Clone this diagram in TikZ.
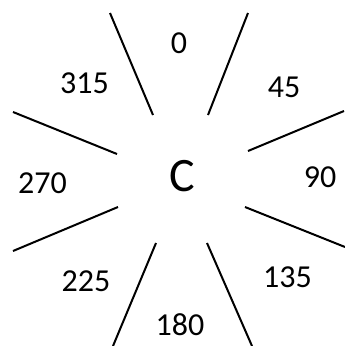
\documentclass[tikz,border=0pt]{standalone}
\usepackage{fontspec}
\setmainfont{Carlito}
\begin{document}
\begin{tikzpicture}[x=1pt,y=-1pt,line width=2pt,
    lbl/.style={font=\fontsize{32}{36}\selectfont,inner sep=0pt}]
  \useasboundingbox (0,0) rectangle (345,346);
  \draw (110,13) -- (153,115);
  \draw (248,13) -- (208,115);
  \draw (344,111) -- (248,151);
  \draw (345,247) -- (245,207);
  \draw (252,346) -- (207,243);
  \draw (113,346) -- (156,243);
  \draw (13,251) -- (118,207);
  \draw (13,112) -- (117,154);
  \node[font=\fontsize{48}{52}\selectfont,inner sep=0pt] (c) at (182,176) {C};
  \node[lbl] (d0) at (179,43.5) {0};
  \node[lbl] (d45) at (284,87) {45};
  \node[lbl] (d90) at (320,177) {90};
  \node[lbl] (d135) at (287.5,277.5) {135};
  \node[lbl] (d180) at (180,325) {180};
  \node[lbl] (d225) at (86,281.5) {225};
  \node[lbl] (d270) at (42.5,183) {270};
  \node[lbl] (d315) at (84.5,83) {315};
\end{tikzpicture}
\end{document}
